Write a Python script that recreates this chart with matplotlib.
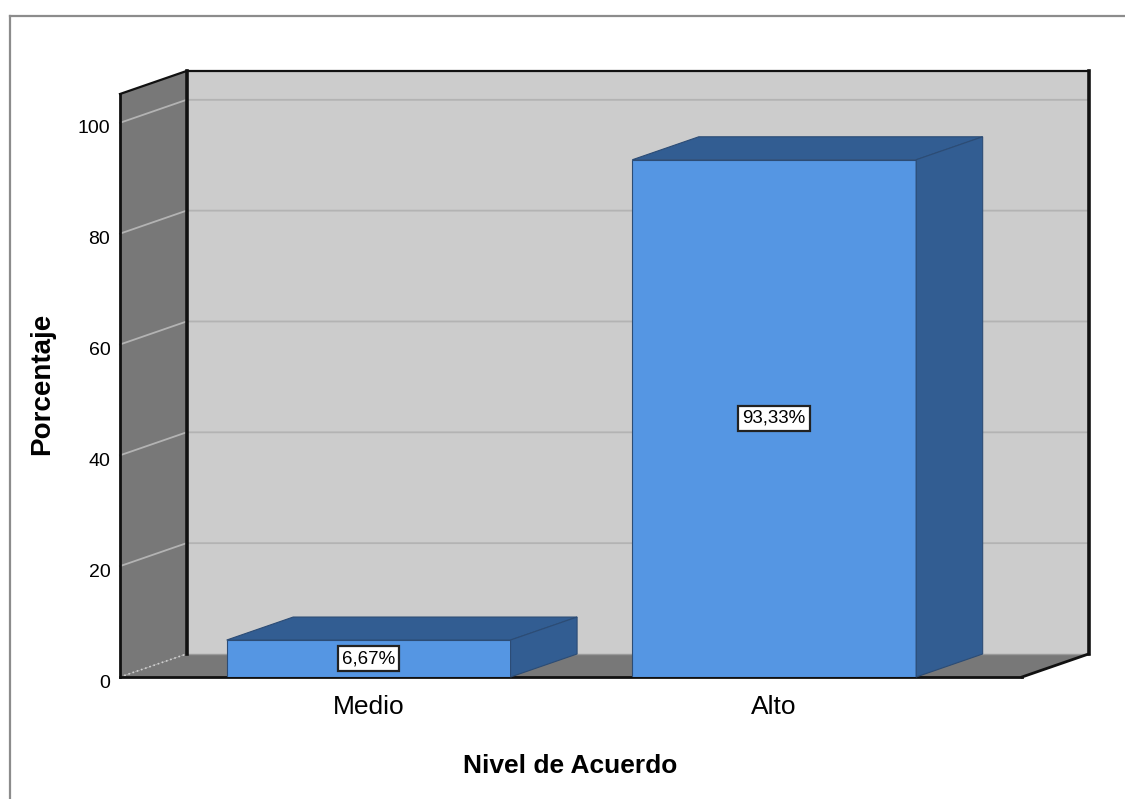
import matplotlib
matplotlib.use('Agg')
import matplotlib.pyplot as plt
import matplotlib.transforms as mtransforms
from matplotlib.patches import Polygon
from matplotlib.lines import Line2D

categories = ['Medio', 'Alto']
percentages = [6.67, 93.33]
value_labels = ['6,67%', '93,33%']
yticks = [0, 20, 40, 60, 80, 100]

plt.rcParams['font.family'] = ['Liberation Sans', 'DejaVu Sans']

FRONT = '#5596e3'
SHADE = '#325d92'
WALL = '#cccccc'
DARK_WALL = '#787878'
GRID = '#b3b3b3'

# plot box and 3D depth (data units)
xmin, xmax = -0.613, 1.611
ytop = 105.2
dx, dy = 0.164, 4.15
bar_w = 0.70

fig = plt.figure(figsize=(11.25, 7.99), dpi=100)
ax = fig.add_axes([120 / 1125, 122 / 799, 902 / 1125, 583 / 799])
ax.set_xlim(xmin, xmax)
ax.set_ylim(0, ytop)
ax.patch.set_visible(False)
for s in ax.spines.values():
    s.set_visible(False)


def poly(pts, fc, z=1, ec='none', lw=0):
    ax.add_patch(Polygon(pts, closed=True, fc=fc, ec=ec, lw=lw, zorder=z,
                         clip_on=False, joinstyle='miter'))


def edge(xs, ys, color='#111111', lw=2.0, ls='-', z=3):
    ax.plot(xs, ys, color=color, lw=lw, ls=ls, zorder=z, clip_on=False,
            solid_capstyle='projecting')


# back wall, left wall, floor
poly([(xmin + dx, dy), (xmax + dx, dy), (xmax + dx, ytop + dy), (xmin + dx, ytop + dy)], WALL)
poly([(xmin, 0), (xmin + dx, dy), (xmin + dx, ytop + dy), (xmin, ytop)], DARK_WALL)
poly([(xmin, 0), (xmax, 0), (xmax + dx, dy), (xmin + dx, dy)], DARK_WALL)

# gridlines across left wall and back wall
for v in yticks[1:]:
    ax.plot([xmin, xmin + dx, xmax + dx], [v, v + dy, v + dy], color=GRID,
            lw=1.3, zorder=2, clip_on=False)

# frame edges
edge([xmin + dx, xmax + dx], [dy, dy], color='#9a9a9a', lw=1.0, z=2)
edge([xmin, xmin + dx], [0, dy], color='#d0d0d0', lw=1.2, ls=':', z=2)
edge([xmin + dx, xmin + dx], [dy, ytop + dy], lw=2.6)
edge([xmin + dx, xmax + dx], [ytop + dy, ytop + dy], lw=1.6)
edge([xmax + dx, xmax + dx], [dy, ytop + dy], lw=2.6)
edge([xmin, xmin], [0, ytop], lw=2.0)
edge([xmin, xmin + dx], [ytop, ytop + dy], lw=1.6)
edge([xmin, xmax], [0, 0], lw=2.0)
edge([xmax, xmax + dx], [0, dy], lw=2.0)

# bars: front faces plus shaded top and side
xpos = list(range(len(categories)))
ax.bar(xpos, percentages, width=bar_w, color=FRONT, edgecolor='#2c4c75',
       linewidth=0.8, zorder=4)
for x, v, lab in zip(xpos, percentages, value_labels):
    l, r = x - bar_w / 2, x + bar_w / 2
    poly([(l, v), (r, v), (r + dx, v + dy), (l + dx, v + dy)], SHADE, z=4,
         ec='#2c4c75', lw=0.8)
    poly([(r, 0), (r + dx, dy), (r + dx, v + dy), (r, v)], SHADE, z=4,
         ec='#2c4c75', lw=0.8)
    ax.text(x, v / 2, lab, ha='center', va='center', fontsize=13.5, zorder=6,
            bbox=dict(boxstyle='square,pad=0.22', fc='white', ec='#222222', lw=1.6))

ax.set_xticks(xpos, categories)
ax.set_yticks(yticks)
ax.tick_params(axis='x', length=0, pad=13, labelsize=19)
ax.tick_params(axis='y', length=0, pad=7, labelsize=14)
shift = mtransforms.ScaledTranslation(0, -4 / 100, fig.dpi_scale_trans)
for t in ax.get_yticklabels():
    t.set_transform(t.get_transform() + shift)

ax.set_xlabel('Nivel de Acuerdo', fontsize=19, fontweight='bold')
ax.xaxis.set_label_coords(0.499, -0.1527)
ax.xaxis.label.set_va('center')
ax.set_ylabel('Porcentaje', fontsize=20, fontweight='bold')
ax.yaxis.set_label_coords(-0.0865, 0.5026)
ax.yaxis.label.set_va('center')

# outer border
fig.add_artist(Line2D([10 / 1125, 1], [1 - 16 / 799] * 2, transform=fig.transFigure,
                      color='#8c8c8c', lw=1.6))
fig.add_artist(Line2D([10 / 1125] * 2, [0, 1 - 16 / 799], transform=fig.transFigure,
                      color='#8c8c8c', lw=1.6))

fig.savefig('out.png', dpi=100)
